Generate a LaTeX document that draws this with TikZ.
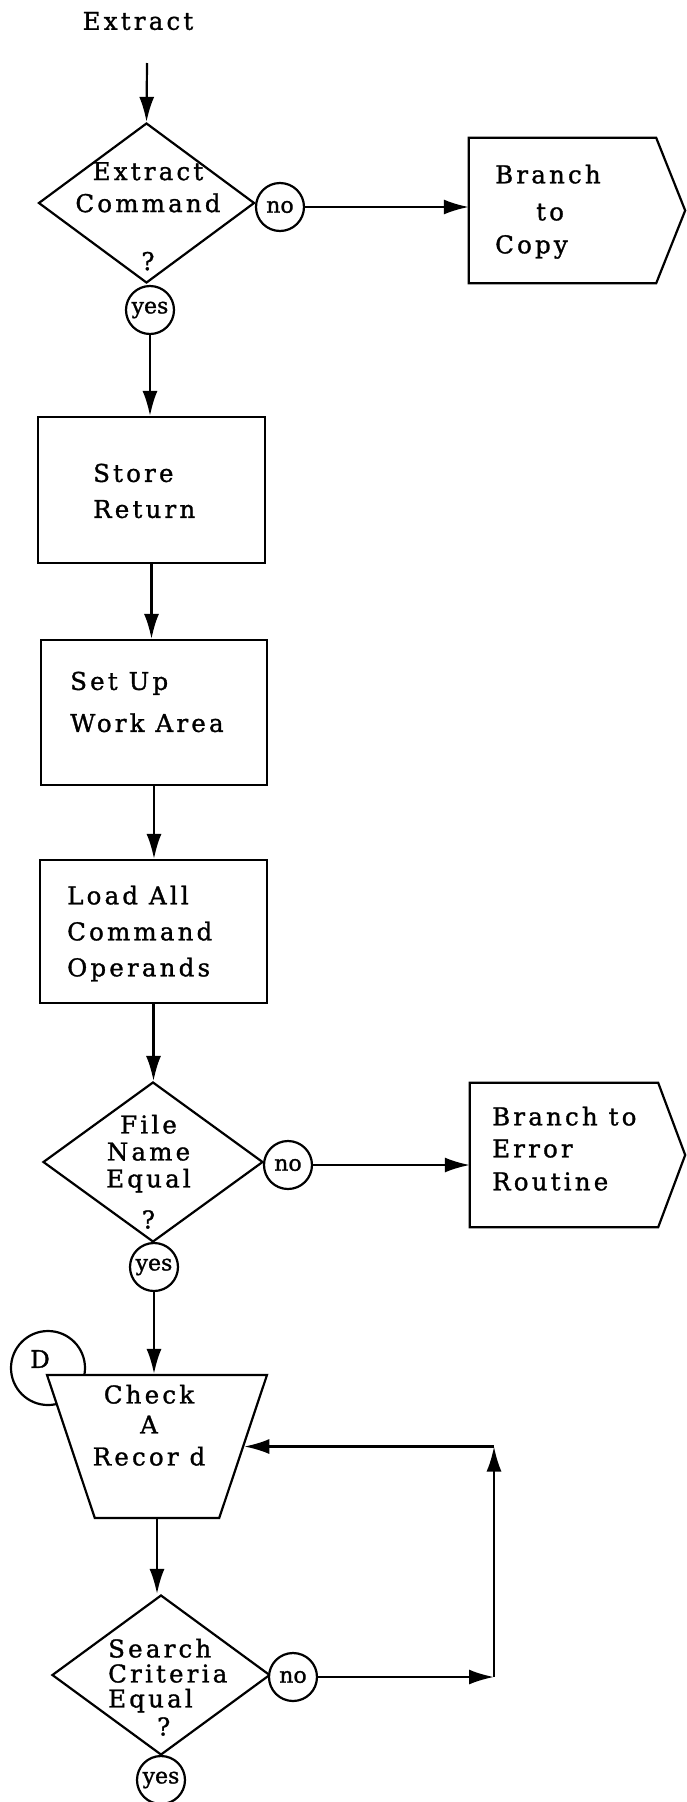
\documentclass[tikz,border=0pt]{standalone}
\usepackage{fontspec}
\usetikzlibrary{shapes.geometric,arrows.meta}
\newfontfamily\serifdj{DejaVu Serif}[LetterSpace=13,FakeBold=1.2]
\newfontfamily\plaindj{DejaVu Serif}[FakeBold=1.2]

\begin{document}
\begin{tikzpicture}[x=10pt,y=10pt]
\tikzstyle{every node}+=[inner sep=0pt]
\tikzstyle{txt}=[font=\serifdj\fontsize{24.5}{34}\selectfont]
\tikzstyle{flowline}=[black,line width=2.2pt]
\tikzstyle{flowarrow}=[flowline,-{Latex[length=25pt,width=15pt]}]
\tikzstyle{decision}=[draw,flowline,diamond,minimum width=218pt,minimum height=160pt]
\tikzstyle{process}=[draw,flowline,rectangle]
\tikzstyle{answer}=[draw,flowline,circle,minimum size=48pt,fill=white,font=\plaindj\fontsize{22}{26}\selectfont]
\tikzstyle{offpage}=[rectangle,minimum height=145pt]
\tikzstyle{connector}=[draw,flowline,circle,minimum size=74pt]
\tikzstyle{recordbox}=[draw,flowline,fill=white,trapezium,inner sep=4pt,trapezium angle=69,shape border rotate=180,trapezium stretches=true,minimum width=220pt,minimum height=143pt]
\useasboundingbox (0,0) rectangle (68.6,-180.2);
\node[txt] (title) at (13.8,-2.1) {Extract};
\coordinate (entry) at (14.7,-6.3);
\node[decision,minimum width=216pt] (d1) at (14.65,-20.3) {};
\node[txt,align=center,anchor=north] (d1t) at (14.8,-16.2) {Extract\\[-2pt]Command\\[24pt]?};
\node[answer] (no1) at (28.0,-20.7) {no};
\node[answer] (yes1) at (15.0,-31.0) {yes};
\node[offpage,minimum width=187pt] (b1) at (56.25,-21.05) {};
\draw[flowline] (b1.north west) -- (b1.north east) -- ([xshift=29pt]b1.east) -- (b1.south east) -- (b1.south west) -- cycle;
\node[txt,align=left,anchor=north west] (b1t) at (49.5,-16.45) {Branch\\[3pt]\hspace*{41pt}to\\[-1pt]Copy};
\node[process,minimum width=227pt,minimum height=146pt] (store) at (15.15,-49.0) {};
\node[txt,align=left,anchor=north west] (storet) at (9.3,-46.35) {Store\\[2pt]Return};
\node[process,minimum width=226pt,minimum height=145pt] (setup) at (15.4,-71.25) {};
\node[txt,align=left,anchor=north west] (setupt) at (7.0,-67.15) {Set Up\\[8pt]Work Area};
\node[process,minimum width=227pt,minimum height=143pt] (load) at (15.35,-93.15) {};
\node[txt,align=left,anchor=north west] (loadt) at (6.7,-88.55) {Load All\\[2pt]Command\\[2pt]Operands};
\node[decision,minimum width=220pt] (d2) at (15.3,-116.2) {};
\node[txt,align=center,anchor=north] (d2t) at (14.85,-111.46) {File\\[-7pt]Name\\[-7pt]Equal\\[7pt]?};
\node[answer] (no2) at (28.8,-116.5) {no};
\node[answer] (yes2) at (15.4,-126.7) {yes};
\node[offpage,minimum width=188pt,minimum height=144pt] (b2) at (56.4,-115.5) {};
\draw[flowline] (b2.north west) -- (b2.north east) -- ([xshift=27pt]b2.east) -- (b2.south east) -- (b2.south west) -- cycle;
\node[txt,align=left,anchor=north west] (b2t) at (49.2,-110.65) {Branch to\\[-2pt]Error\\[-1pt]Routine};
\node[connector] (dlink) at (4.8,-136.8) {};
\node[txt] (dtext) at (4.0,-135.9) {D};
\node[recordbox] (check) at (15.7,-144.65) {};
\node[txt,align=center,anchor=north] (checkt) at (14.9,-138.46) {Check\\[-4pt]A\\[-2pt]Recor d};
\node[decision] (d3) at (16.1,-167.5) {};
\node[txt,align=left,anchor=north west] (d3t) at (10.8,-163.86) {Search\\[-9pt]Criteria\\[-9pt]Equal\\[-6pt]\hspace*{49pt}?};
\node[answer] (no3) at (29.3,-167.7) {no};
\node[answer] (yes3) at (16.1,-178.0) {yes};
\coordinate (loop) at (49.4,-167.7);
\draw[flowarrow] (entry) -- (d1.north);
\draw[flowarrow] (no1.east) -- (no1.east -| b1.west);
\draw[flowarrow] (yes1.south) -- (yes1.south |- store.north);
\draw[flowarrow] (store.south) -- (store.south |- setup.north);
\draw[flowarrow] (setup.south) -- (setup.south |- load.north);
\draw[flowarrow] (load.south) -- (load.south |- d2.north);
\draw[flowarrow] (no2.east) -- (no2.east -| b2.west);
\draw[flowarrow] (yes2.south) -- (yes2.south |- check.north);
\draw[flowarrow] (check.south) -- (check.south |- d3.north);
\draw[flowarrow] (no3) -- (loop);
\draw[flowarrow] (loop) -- (loop |- check.east);
\draw[flowarrow] (loop |- check.east) -- (check.east);
\end{tikzpicture}
\end{document}
